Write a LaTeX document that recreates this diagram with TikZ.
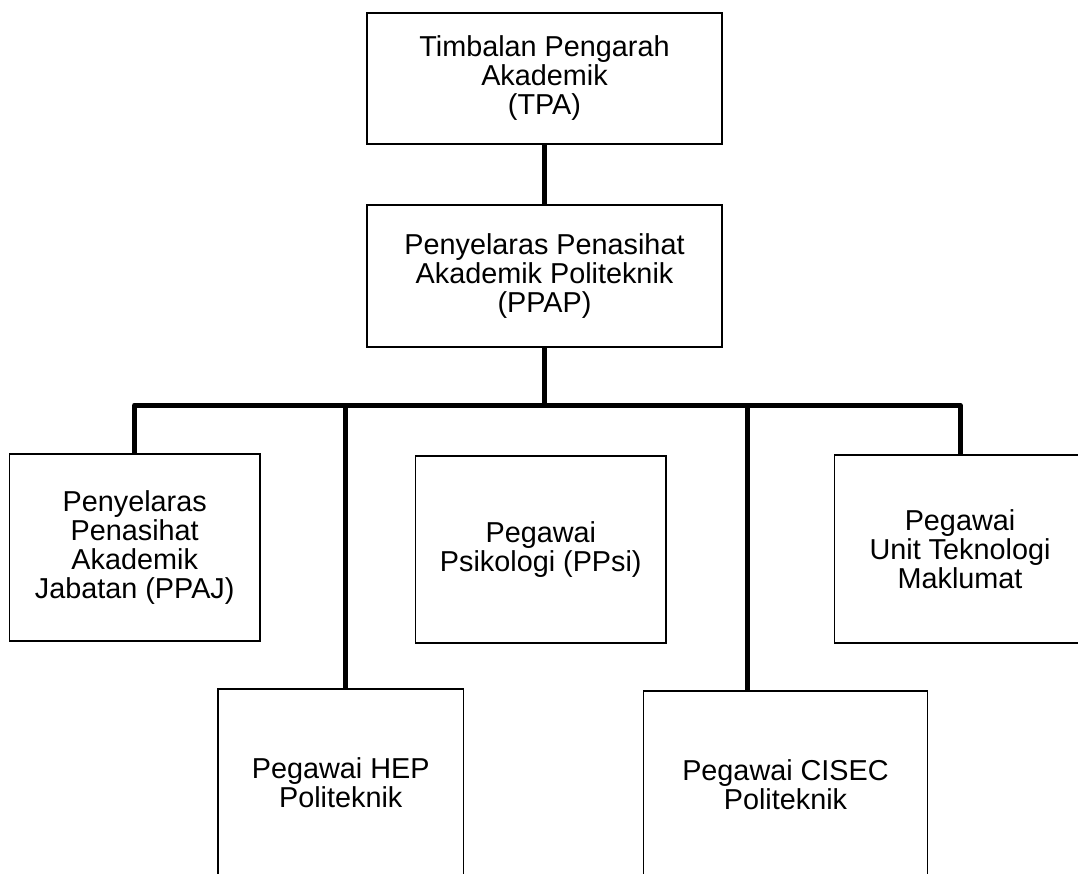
\documentclass[tikz,border=0pt]{standalone}
\usepackage{fontspec}
\setmainfont{Liberation Sans}
\begin{document}
\begin{tikzpicture}[x=1pt,y=-1pt,
  orgbox/.style={draw=black, line width=1.6pt, rectangle, align=center, inner sep=0pt,
    font=\fontsize{28.8}{29}\selectfont},
  conn/.style={draw=black, line width=5pt, line join=round}]
\useasboundingbox (0,0) rectangle (1078,874);
\clip (0,0) rectangle (1078,874);
\fill[white] (0,0) rectangle (1078,874);

\node[orgbox, minimum width=355pt, minimum height=131pt] (tpa) at (544.5,78.5)
  {Timbalan Pengarah\\Akademik\\(TPA)};
\node[orgbox, minimum width=355pt, minimum height=142pt] (ppap) at (544.5,276)
  {Penyelaras Penasihat\\Akademik Politeknik\\(PPAP)};
\node[orgbox, minimum width=250.7pt, minimum height=187pt] (ppaj) at (134.7,547.5)
  {Penyelaras\\Penasihat\\Akademik\\Jabatan (PPAJ)};
\node[orgbox, minimum width=250.5pt, minimum height=187pt] (ppsi) at (540.8,549.5)
  {Pegawai\\Psikologi (PPsi)};
\node[orgbox, minimum width=251pt, minimum height=188pt] (utm) at (960,549)
  {Pegawai\\Unit Teknologi\\Maklumat};
\node[orgbox, minimum width=245.7pt, minimum height=188pt] (hep) at (340.7,783)
  {Pegawai HEP\\Politeknik};
\node[orgbox, minimum width=284pt, minimum height=188pt] (cisec) at (785.5,785)
  {Pegawai CISEC\\Politeknik};

\coordinate (bar) at (545,405);

\draw[conn] (tpa.south) -- (ppap.north);
\draw[conn] (ppap.south) -- (ppap.south |- bar);
\draw[conn] (ppaj.north) -- (ppaj.north |- bar) -- (utm.north |- bar) -- (utm.north);
\draw[conn] ([xshift=4.8pt]hep.north) -- ([xshift=4.8pt]hep.north |- bar);
\draw[conn] ([xshift=-38.5pt]cisec.north) -- ([xshift=-38.5pt]cisec.north |- bar);
\end{tikzpicture}
\end{document}
